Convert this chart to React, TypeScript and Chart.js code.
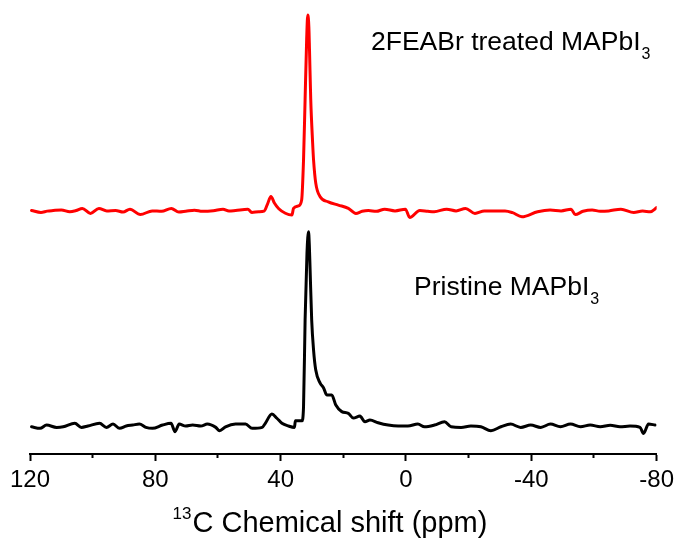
import { useEffect, useRef } from 'react';
import { Chart, registerables } from 'chart.js';

Chart.register(...registerables);

const FONT = '"Liberation Sans", Arial, Helvetica, sans-serif';

// Pristine MAPbI3 spectrum: chemical shift (ppm) and normalised intensity
const pristinePpm = [
  119.5, 116.8, 114.7, 111.5, 109.4, 105.7, 103.6, 101.5, 97.8, 95.6, 93.5, 91.4, 89.3, 87.2, 85.1, 83,
  80.9, 77.7, 75, 73.7, 72.4, 70.3, 68.1, 65.5, 63.4, 60.7, 59.5, 57.6, 54.4, 51.2, 49.1, 45.9, 44.9,
  42.8, 41.2, 39.6, 37.5, 35.6, 35.3, 33.2, 32.7, 32.2, 31.6, 31.35, 31.1, 30.85, 30.6, 30.1, 29.5,
  28.8, 27.4, 26.3, 25.3, 23.7, 22.4, 20.5, 18.4, 16.8, 14.7, 13.1, 11.5, 8.9, 5.7, 2.5, -0.6, -3.8,
  -5.9, -9.1, -12.3, -14.4, -17.6, -20.7, -23.9, -27.1, -30.3, -33.4, -36.6, -39.8, -43, -46.1, -49.3,
  -52.5, -55.7, -58.8, -62, -65.2, -68.3, -71.5, -74.7, -75.8, -77.4, -79.5,
];
const pristineIntensity = [
  -0.4, -1.2, 0.5, -0.7, -0.4, 1.4, -0.7, 0, 1.4, -0.7, 1.0, -1.2, 0, 0.5, 1.0, -0.7,
  -1.2, 0.5, 1.4, -2.9, 1.0, 0, 0.5, 0, 1.0, -0.7, -2.4, -0.4, 1.0, 1.0, -1.2, -0.7, 1.4,
  6.2, 4.0, 1.4, 0, -0.7, 2.7, 2.7, 9.9, 54.6, 89, 97, 100, 93, 80.3, 54.6, 39.1,
  28.8, 22.1, 19.6, 16, 16, 10.8, 7.4, 6.5, 4.1, 5.1, 2.2, 3.1, 1.7, 0.5, 0, 0, 1.0,
  -0.4, 0.5, 2.2, -0.4, -0.7, 0, -0.4, -2.4, -0.4, 1.0, -0.7, 0.5, -0.7, 1.0, -0.4,
  1.0, -0.4, 0.5, -0.4, 0.4, -0.4, 0, -0.7, -3.8, 1.0, 0.5,
];

// 2FEABr treated MAPbI3 spectrum, drawn above the pristine trace
const treatedPpm = [
  119.5, 116.5, 114.5, 112.6, 110, 107.3, 105.3, 103.3, 100.7, 98, 95.5, 92.7, 90.3, 88.1, 84.8, 81,
  78, 74.9, 72.5, 70.3, 67.5, 65, 61.5, 58.4, 56.5, 54.4, 50.5, 49.2, 47, 45.3, 44.3, 43.1, 42.0, 40.6,
  38.5, 36.4, 35.9, 34.3, 33.3, 32.7, 32.2, 31.7, 31.35, 31.0, 30.8, 30.4, 29.8, 29.5, 28.8, 27.4,
  24.8, 21.6, 18.4, 16, 14, 12, 9.5, 6.8, 3.5, 0.2, -1.2, -4.4, -7, -9, -13, -16, -19, -22, -25,
  -27.6, -31.6, -34, -37, -42, -46, -49.5, -52.7, -54, -56.5, -59.4, -62, -64.7, -68.6, -72.7, -75.5,
  -78, -80,
];
const treatedIntensity = [
  0.6, -0.4, 0.3, 0.6, 0.9, 0, 0.6, 1.7, -0.9, 1.7, 0.4, 0.6, -0.2, 1.3, -1.5, 0.4,
  0.2, 1.7, -0.2, 0.2, 0.8, 0.2, 0.5, 1.3, 0.3, 0.6, 1.3, -0.4, 0, 0.3, 3.5, 7.8, 4.5, 1.5,
  -0.8, -1.7, 1.7, 3.0, 6.0, 26.8, 57.8, 88.8, 101.2, 95, 83.6, 57.8, 35.5, 26.6, 14.7, 7.7,
  5.1, 3.4, 1.7, -0.9, 0.2, 0.6, 0.2, 1.3, 0.4, 1.3, -3.0, 0.6, 0.2, 0, 1.3, 0.4, 1.7, -0.9, 0.4,
  0.4, 0.4, -0.5, -2.6, 0, 0.9, 0.4, 1.3, -1.5, 0.2, 0.9, 0.2, 0.4, 1.3, -0.4, 0.3,
  0, 2.1,
];
const treatedOffset = 110.3;

// Axis range and tick spacing (ppm)
const xMin = -80;
const xMax = 120;
const tickStep = 20;
const labelStep = 40;

const axisTitleSup = '13';
const axisTitleMain = 'C Chemical shift (ppm)';
const treatedLabel = '2FEABr treated MAPbI';
const pristineLabel = 'Pristine MAPbI';
const labelSub = '3';

const toPoints = (xs: number[], ys: number[], offset = 0) =>
  xs.map((x, i) => ({ x, y: ys[i] + offset }));

const textPlugin = {
  id: 'spectrumText',
  afterDraw(chart: Chart) {
    const { ctx } = chart;
    ctx.save();
    ctx.fillStyle = '#000';
    ctx.textBaseline = 'alphabetic';
    ctx.textAlign = 'left';

    const drawWithSub = (main: string, x: number, y: number) => {
      ctx.font = `26.5px ${FONT}`;
      ctx.fillText(main, x, y);
      const w = ctx.measureText(main).width;
      ctx.font = `16px ${FONT}`;
      ctx.fillText(labelSub, x + w + 1, y + 9);
    };
    drawWithSub(treatedLabel, 371, 50);
    drawWithSub(pristineLabel, 414, 295);

    // axis title with superscript isotope number
    ctx.font = `17px ${FONT}`;
    const supW = ctx.measureText(axisTitleSup).width;
    ctx.font = `29px ${FONT}`;
    const mainW = ctx.measureText(axisTitleMain).width;
    const cx = 330;
    const left = cx - (supW + 1 + mainW) / 2;
    const base = 532;
    ctx.font = `17px ${FONT}`;
    ctx.fillText(axisTitleSup, left, base - 13);
    ctx.font = `29px ${FONT}`;
    ctx.fillText(axisTitleMain, left + supW + 1, base);
    ctx.restore();
  },
};

export default function App() {
  const canvasRef = useRef<HTMLCanvasElement | null>(null);

  useEffect(() => {
    document.body.style.margin = '0';
    const canvas = canvasRef.current;
    if (!canvas) return;
    const lineStyle = {
      borderWidth: 3,
      pointRadius: 0,
      cubicInterpolationMode: 'monotone',
      borderJoinStyle: 'round',
      borderCapStyle: 'round',
    };
    const chart = new Chart(canvas, {
      type: 'line',
      data: {
        datasets: [
          {
            label: 'Pristine MAPbI3',
            data: toPoints(pristinePpm, pristineIntensity),
            borderColor: '#000000',
            ...lineStyle,
          },
          {
            label: '2FEABr treated MAPbI3',
            data: toPoints(treatedPpm, treatedIntensity, treatedOffset),
            borderColor: '#ff0000',
            ...lineStyle,
          },
        ],
      },
      options: {
        animation: false,
        responsive: false,
        devicePixelRatio: 1,
        layout: { padding: { left: 30, right: 19, top: 10, bottom: 42.2 } },
        plugins: { legend: { display: false }, tooltip: { enabled: false } },
        scales: {
          x: {
            type: 'linear',
            min: xMin,
            max: xMax,
            reverse: true,
            position: 'bottom',
            border: { display: true, color: '#000', width: 2 },
            grid: {
              display: true,
              drawOnChartArea: false,
              drawTicks: true,
              tickLength: 7,
              tickColor: '#000',
              tickWidth: 2,
              tickBorderDash: (c: any) =>
                c.tick && Math.abs(c.tick.value) % labelStep === 0 ? [] : [3, 30],
            },
            ticks: {
              stepSize: tickStep,
              autoSkip: false,
              maxRotation: 0,
              padding: 5,
              color: '#000',
              font: { family: FONT, size: 24, lineHeight: 1.2 },
              callback: (v: any) => (Math.abs(Number(v)) % labelStep === 0 ? String(v) : ''),
            },
          },
          y: { display: false, min: -14.4, max: 214.1 },
        },
      },
      plugins: [textPlugin],
    } as any);
    return () => chart.destroy();
  }, []);

  return (
    <div style={{ position: 'fixed', left: 0, top: 0, width: 679, height: 542, background: '#fff' }}>
      <canvas ref={canvasRef} width={679} height={542} />
    </div>
  );
}
